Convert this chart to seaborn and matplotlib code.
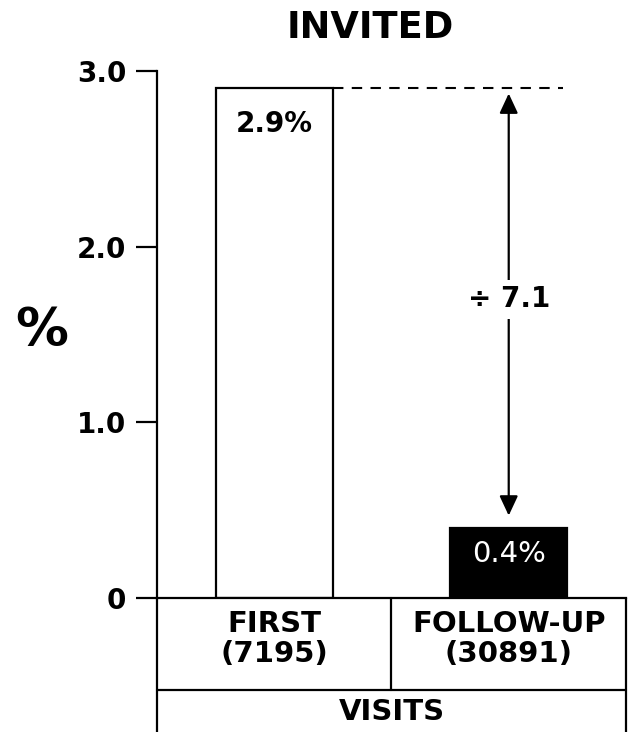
import matplotlib
matplotlib.use("Agg")
import matplotlib.pyplot as plt
import seaborn as sns

# data
categories = ["FIRST", "FOLLOW-UP"]
counts = [7195, 30891]
percents = [2.9, 0.4]
ratio = 7.1
y_ticks = [0, 1.0, 2.0, 3.0]
y_tick_labels = ["0", "1.0", "2.0", "3.0"]

sns.set_style("white")
plt.rcParams["font.family"] = ["DejaVu Sans"]
plt.rcParams["text.color"] = "black"
plt.rcParams["ytick.color"] = "black"
plt.rcParams["xtick.color"] = "black"
plt.rcParams["axes.labelcolor"] = "black"

fig = plt.figure(figsize=(6.3, 7.32), dpi=100)
ax = fig.add_axes([0.2492, 0.1827, 0.7444, 0.7208])

sns.barplot(x=categories, y=percents, hue=categories, palette=["white", "black"],
            edgecolor="black", linewidth=1.6, width=0.5, legend=False, ax=ax)

ax.set_xlim(-0.5, 1.5)
ax.set_ylim(0, 3.0)
ax.set_yticks(y_ticks)
ax.set_yticklabels(y_tick_labels, fontsize=20, fontweight="bold", color="black")
ax.tick_params(axis="y", direction="out", length=15, width=1.6, pad=7, left=True,
               color="black")
ax.set_xticks([])
ax.set_xlabel("")
ax.set_ylabel("")
for side in ["top", "right"]:
    ax.spines[side].set_visible(False)
for side in ["left", "bottom"]:
    ax.spines[side].set_linewidth(1.6)
    ax.spines[side].set_color("black")

# value labels inside the bars
label_colors = ["black", "white"]
label_weights = ["bold", "normal"]
label_sizes = [20, 21]
label_offsets = [-26, -19]
for i, p in enumerate(percents):
    ax.annotate(f"{p}%", xy=(i, p), xytext=(0, label_offsets[i]), textcoords="offset points",
                ha="center", va="center", color=label_colors[i],
                fontsize=label_sizes[i], fontweight=label_weights[i])

# dashed reference line at the first bar's height
ax.plot([0.25, 1.23], [percents[0], percents[0]], color="black", lw=1.5,
        ls=(0, (5, 4)), clip_on=False)

# double arrow between the two levels
ax.annotate("", xy=(1, percents[0] - 0.03), xytext=(1, percents[1] + 0.07),
            arrowprops=dict(arrowstyle="<|-|>,head_length=0.6,head_width=0.28",
                            mutation_scale=20, color="black", lw=1.6,
                            shrinkA=0, shrinkB=0))
ax.text(1, 1.70, f"\u00f7 {ratio}", ha="center", va="center", fontsize=20,
        fontweight="bold", color="black",
        bbox=dict(facecolor="white", edgecolor="none", pad=4))

# "%" axis label
ax.text(-0.245, 0.507, "%", transform=ax.transAxes, ha="center", va="center",
        fontsize=38, fontweight="bold", color="black")

# table below the axis
row1 = -0.521
row2 = -0.76
line_kw = dict(color="black", lw=1.6, clip_on=False)
ax.plot([-0.5, -0.5], [0, row2], **line_kw)
ax.plot([1.5, 1.5], [0, row2], **line_kw)
ax.plot([0.5, 0.5], [0, row1], **line_kw)
ax.plot([-0.5, 1.5], [row1, row1], **line_kw)

for i, (name, n) in enumerate(zip(categories, counts)):
    ax.text(i, -0.231, f"{name}\n({n})", ha="center", va="center",
            fontsize=21, fontweight="bold", linespacing=1.1, color="black")
ax.text(0.5, -0.644, "VISITS", ha="center", va="center", fontsize=21,
        fontweight="bold", color="black")

fig.text(370 / 630, 1 - 27 / 732, "INVITED", ha="center", va="center",
         fontsize=26.5, fontweight="bold", color="black")

fig.savefig("out.png", dpi=100)
